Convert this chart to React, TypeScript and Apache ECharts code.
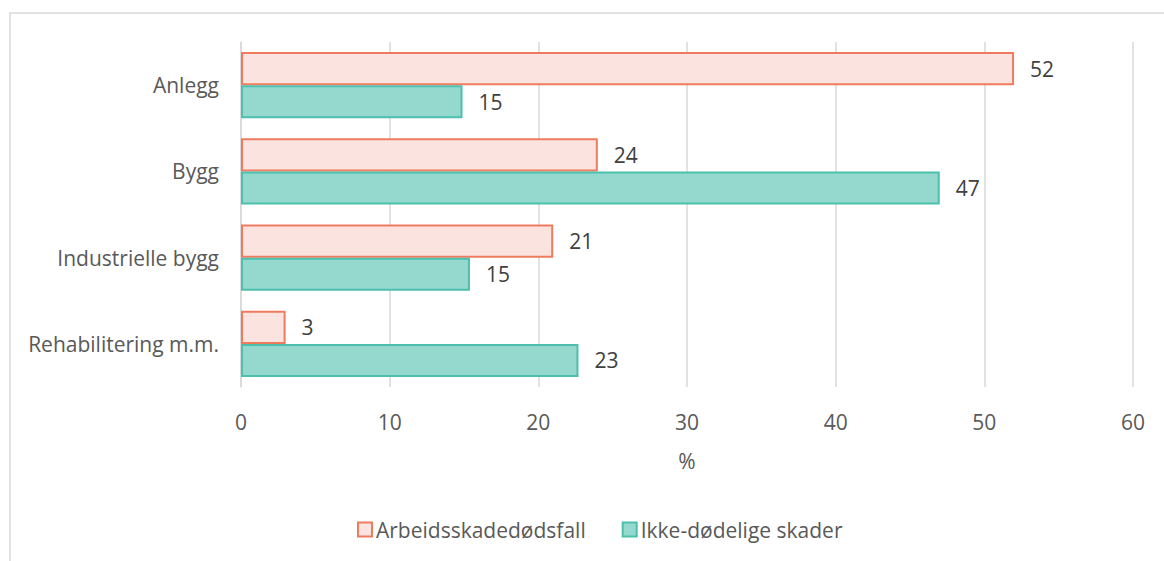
import React, { useEffect, useRef } from "react";
import * as echarts from "echarts";

const categories = ["Anlegg", "Bygg", "Industrielle bygg", "Rehabilitering m.m."];
const fatalities = [52, 24, 21, 3];
const injuries = [14.9, 47, 15.4, 22.7];
const seriesNames = ["Arbeidsskadedødsfall", "Ikke-dødelige skader"];
const xTicks = [0, 10, 20, 30, 40, 50, 60];

const FONT = "Open Sans";
const FS = 21;

export default function App() {
  const ref = useRef<HTMLDivElement>(null);
  useEffect(() => {
    const chart = echarts.init(ref.current!, null, { renderer: "svg" });
    const label = {
      show: true,
      position: "right",
      distance: 16,
      color: "#404040",
      fontSize: FS,
      fontFamily: FONT,
      formatter: (p: any) => String(Math.round(p.value)),
    };
    chart.setOption({
      animation: false,
      graphic: [
        {
          type: "rect",
          shape: { x: 10, y: 13, width: 1170, height: 570 },
          style: { fill: "none", stroke: "#d9d9d9", lineWidth: 1.5 },
          silent: true,
        },
      ],
      grid: { left: 241, right: 31, top: 42, bottom: 174 },
      legend: {
        bottom: 16,
        left: 352,
        itemWidth: 14,
        itemHeight: 14,
        itemGap: 36,
        icon: "rect",
        textStyle: { color: "#595959", fontSize: FS, fontFamily: FONT, padding: [0, 0, 0, -1] },
        data: seriesNames,
      },
      xAxis: {
        type: "value",
        min: xTicks[0],
        max: xTicks[xTicks.length - 1],
        interval: 10,
        name: "%",
        nameLocation: "middle",
        nameGap: 63,
        nameTextStyle: { color: "#595959", fontSize: FS, fontFamily: FONT },
        axisLine: { show: false },
        axisTick: { show: false },
        axisLabel: { color: "#595959", fontSize: FS, fontFamily: FONT, margin: 24 },
        splitLine: { show: true, lineStyle: { color: "#d9d9d9", width: 1.5 } },
      },
      yAxis: {
        type: "category",
        inverse: true,
        data: categories,
        axisLine: { show: true, lineStyle: { color: "#d9d9d9", width: 1.5 } },
        axisTick: { show: false },
        axisLabel: { color: "#595959", fontSize: FS, fontFamily: FONT, margin: 22 },
      },
      series: [
        {
          name: seriesNames[0],
          type: "bar",
          data: fatalities,
          barGap: "0%",
          barCategoryGap: "23%",
          itemStyle: { color: "#fbe4df", borderColor: "#ef7b5e", borderWidth: 2 },
          label,
        },
        {
          name: seriesNames[1],
          type: "bar",
          data: injuries,
          barGap: "0%",
          barCategoryGap: "23%",
          itemStyle: { color: "#95d8cd", borderColor: "#4cbfae", borderWidth: 2 },
          label,
        },
      ],
    });
    return () => chart.dispose();
  }, []);
  return (
    <div
      ref={ref}
      style={{ position: "fixed", left: 0, top: 0, width: 1164, height: 561, background: "#fff" }}
    />
  );
}
